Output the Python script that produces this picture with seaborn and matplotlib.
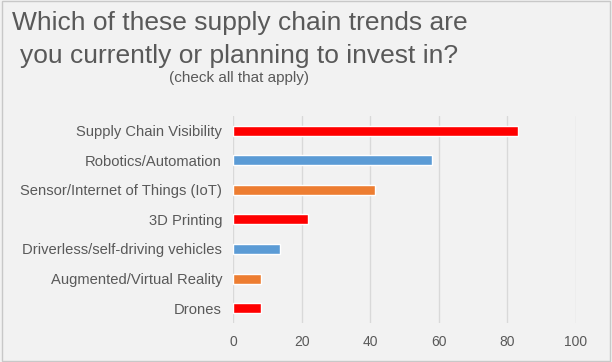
import matplotlib
matplotlib.use("Agg")
import matplotlib.pyplot as plt
from matplotlib.patches import Rectangle
import seaborn as sns
import pandas as pd

trends = ["Supply Chain Visibility", "Robotics/Automation", "Sensor/Internet of Things (IoT)",
          "3D Printing", "Driverless/self-driving vehicles", "Augmented/Virtual Reality", "Drones"]
shares = [83.3, 58.1, 41.3, 21.9, 13.6, 8.1, 8.1]
bar_colors = ["#ff0000", "#5b9bd5", "#ed7d31", "#ff0000", "#5b9bd5", "#ed7d31", "#ff0000"]
xticks = [0, 20, 40, 60, 80, 100]

df = pd.DataFrame({"trend": trends, "share": shares})

sns.set_theme(style="whitegrid")
plt.rcParams['font.family'] = ['Liberation Sans', 'DejaVu Sans']

bg = "#f2f2f2"
txt = "#595959"

fig = plt.figure(figsize=(6.12, 3.62), dpi=100, facecolor=bg)
ax = fig.add_axes([0.381, 0.108, 0.5595, 0.572])
ax.set_facecolor(bg)

sns.barplot(data=df, x="share", y="trend", hue="trend", palette=bar_colors,
            legend=False, width=0.34, ax=ax, saturation=1)

ax.set_xlim(0, 100)
ax.set_ylim(6.5, -0.5)
ax.set_xticks(xticks)
ax.set_xlabel("")
ax.set_ylabel("")
ax.grid(axis="x", color="#d9d9d9", linewidth=1)
ax.grid(axis="y", visible=False)
for s in ax.spines.values():
    s.set_visible(False)
ax.tick_params(axis="y", length=0, colors=txt, labelsize=10.6, pad=8)
ax.tick_params(axis="x", length=0, colors=txt, labelsize=10, pad=9)

fig.text(0.019, 0.917, "Which of these supply chain trends are", fontsize=19, color=txt, va="baseline")
fig.text(0.033, 0.826, "you currently or planning to invest in?", fontsize=19, color=txt, va="baseline")
fig.text(0.39, 0.773, "(check all that apply)", fontsize=11, color=txt, va="baseline", ha="center")

fig.patches.append(Rectangle((0.004, 0.004), 0.992, 0.992, transform=fig.transFigure,
                             fill=False, edgecolor="#c8c8c8", linewidth=1))

fig.savefig("out.png", dpi=100, facecolor=bg)
